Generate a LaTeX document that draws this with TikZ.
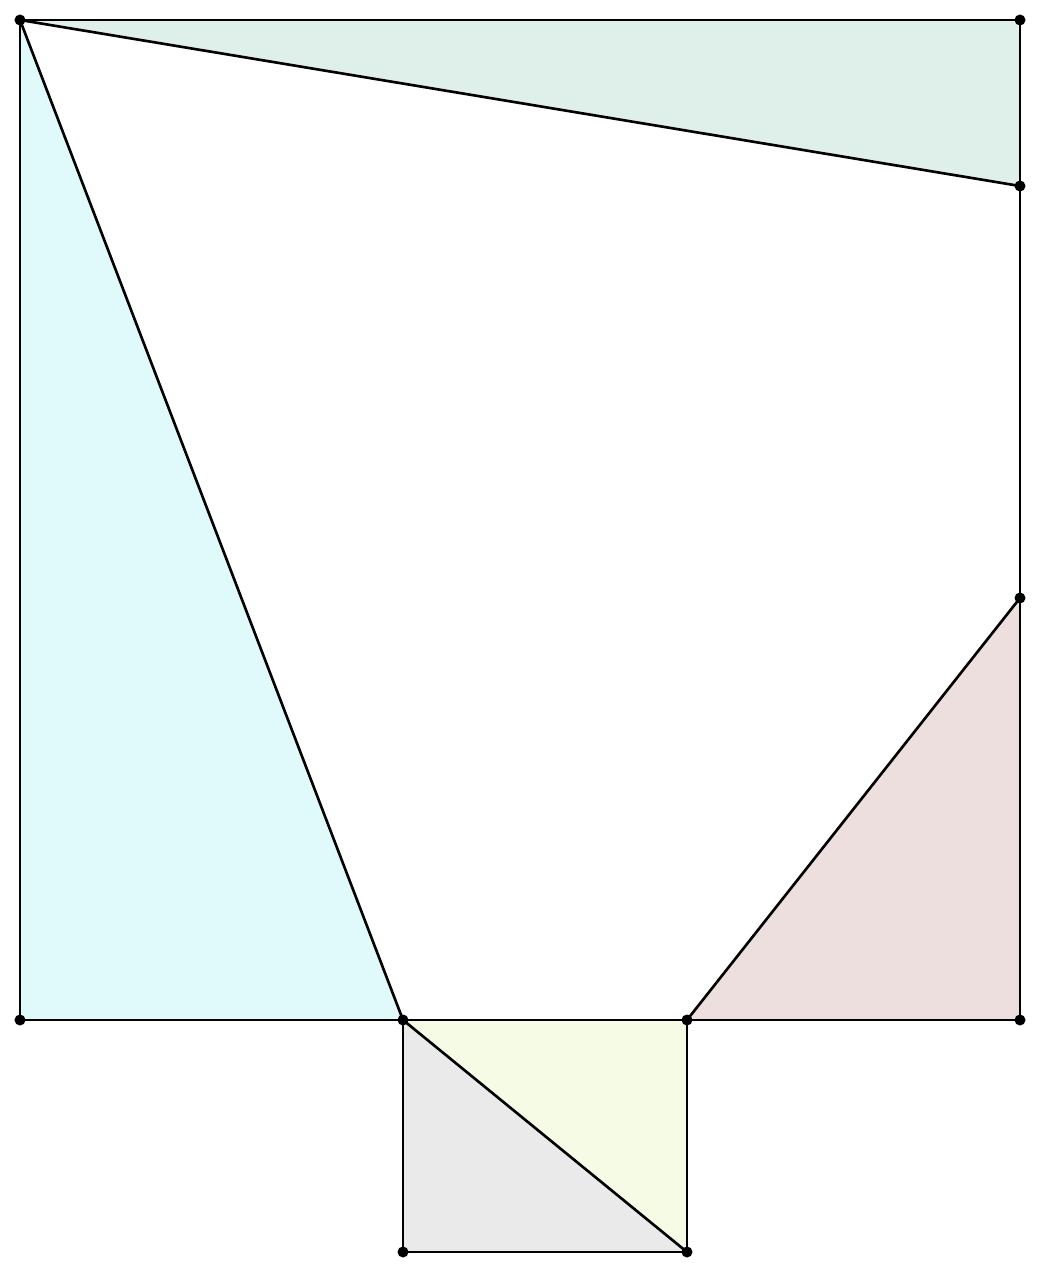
\documentclass[tikz,border=0pt]{standalone}
\usepackage{tikz}
\usetikzlibrary{calc}

\begin{document}
\begin{tikzpicture}[
    x={(1cm,0cm)}, y={(0cm,1cm)},
    edge/.style={black, line width=0.75pt, line join=round},
    pt/.style={circle, fill=black, inner sep=0pt, minimum size=1.1mm},
  ]
    \definecolor{fillgreen}{HTML}{dff0ea}
    \definecolor{fillcyan}{HTML}{e0fafb}
    \definecolor{fillpink}{HTML}{eedfdf}
    \definecolor{fillyellow}{HTML}{f6fbe6}
    \definecolor{fillgray}{HTML}{eaeaea}

    \useasboundingbox (-0.2,-2.52) rectangle (10.2,10.2);

    % ============ points ============
    \coordinate (A) at (0,10);
    \coordinate (B) at (10,10);
    \coordinate (C) at (0,0);
    \coordinate (D) at (10,0);
    \coordinate (E) at (10,8.34);
    \coordinate (F) at (10,4.22);
    \coordinate (G) at (3.83,0);
    \coordinate (H) at (6.67,0);
    \coordinate (K) at (3.83,-2.32);
    \coordinate (L) at (6.67,-2.32);

    % ============ shaded triangles ============
    \fill[fillgreen] (A) -- (B) -- (E) -- cycle;
    \fill[fillcyan] (A) -- (C) -- (G) -- cycle;
    \fill[fillpink] (H) -- (D) -- (F) -- cycle;
    \fill[fillyellow] (G) -- (H) -- (L) -- cycle;
    \fill[fillgray] (G) -- (K) -- (L) -- cycle;

    % ============ edges ============
    \draw[edge] (A) -- (B) -- (D) -- (C) -- cycle;
    \draw[edge] (A) -- (E);
    \draw[edge] (A) -- (G);
    \draw[edge] (H) -- (F);
    \draw[edge] (G) -- (K) -- (L) -- (H);
    \draw[edge] (G) -- (L);

    \foreach \p in {A,B,C,D,E,F,G,H,K,L}{
      \node[pt] at (\p) {};
    }
  \end{tikzpicture}
\end{document}
